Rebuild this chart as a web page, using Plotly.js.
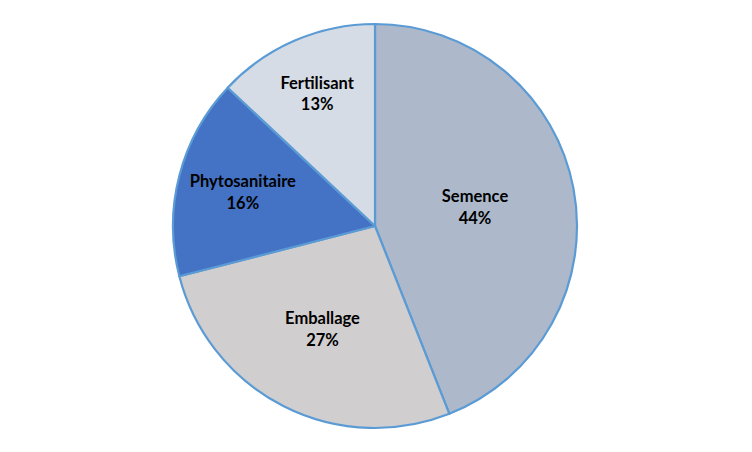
<!DOCTYPE html>
<html>
<head>
<meta charset="utf-8">
<script src="https://cdn.plot.ly/plotly-3.0.1.min.js"></script>
<style>
  html, body { margin: 0; padding: 0; background: #ffffff; }
  #chart { width: 752px; height: 452px; }
</style>
</head>
<body>
<div id="chart"></div>
<script>
// ----- 数据 -----
const categories = ["Semence", "Emballage", "Phytosanitaire", "Fertilisant"];
const shares     = [44, 27, 16, 13];
const sliceColors = ["#ADB9CA", "#D0CECE", "#4472C4", "#D6DCE5"];

const trace = {
  type: "pie",
  labels: categories,
  values: shares,
  sort: false,
  direction: "clockwise",
  rotation: 0,
  textinfo: "label+percent",
  texttemplate: "<b>%{label}</b><br><b>%{percent:.0%}</b>",
  textposition: "inside",
  insidetextorientation: "horizontal",
  textfont: { family: "Lato, 'Open Sans', sans-serif", size: 16.5, color: "#000000" },
  marker: { colors: sliceColors, line: { color: "#5B9BD5", width: 2.2 } },
  hoverinfo: "label+percent"
};

const layout = {
  width: 752, height: 452,
  showlegend: false,
  margin: { l: 0, r: 2, t: 24, b: 24 },
  paper_bgcolor: "#ffffff",
  plot_bgcolor: "#ffffff"
};

Plotly.newPlot("chart", [trace], layout, { displayModeBar: false, staticPlot: true });
</script>
</body>
</html>
